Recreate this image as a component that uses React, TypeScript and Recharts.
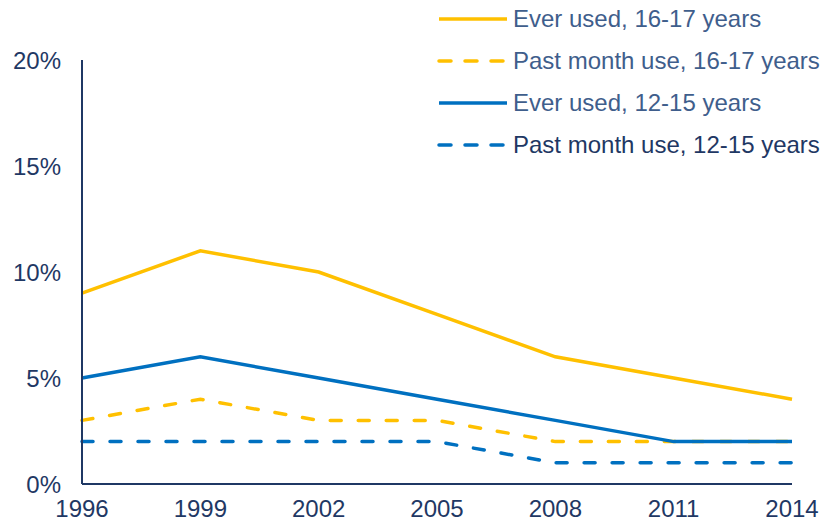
import React from "react";
import { LineChart, Line, XAxis, YAxis } from "recharts";

const years = ["1996", "1999", "2002", "2005", "2008", "2011", "2014"];
const everUsed1617 = [9, 11, 10, 8, 6, 5, 4];
const pastMonth1617 = [3, 4, 3, 3, 2, 2, 2];
const everUsed1215 = [5, 6, 5, 4, 3, 2, 2];
const pastMonth1215 = [2, 2, 2, 2, 1, 1, 1];
const yTicks = [0, 5, 10, 15, 20];

const data = years.map((y, i) => ({
  year: y,
  e1617: everUsed1617[i],
  p1617: pastMonth1617[i],
  e1215: everUsed1215[i],
  p1215: pastMonth1215[i],
}));

const ORANGE = "#FFC000";
const BLUE = "#0070C0";
const NAVY = "#1F3864";
const FONT = "'Liberation Sans', Arial, sans-serif";

const legendItems = [
  { name: "Ever used, 16-17 years", color: ORANGE, dash: false, text: "#3F5E8C" },
  { name: "Past month use, 16-17 years", color: ORANGE, dash: true, text: "#3F5E8C" },
  { name: "Ever used, 12-15 years", color: BLUE, dash: false, text: "#3F5E8C" },
  { name: "Past month use, 12-15 years", color: BLUE, dash: true, text: NAVY },
];

const LegendBox = () => (
  <div style={{ position: "absolute", left: 436, top: -2, fontFamily: FONT }}>
    {legendItems.map((it) => (
      <div key={it.name} style={{ display: "flex", alignItems: "center", height: 42 }}>
        <svg width={77} height={10} style={{ display: "block" }}>
          <line
            x1={3}
            y1={5}
            x2={71}
            y2={5}
            stroke={it.color}
            strokeWidth={3.5}
            strokeDasharray={it.dash ? "12 14" : undefined}
            strokeLinecap={it.dash ? "round" : "butt"}
          />
        </svg>
        <span style={{ fontSize: 24, color: it.text, whiteSpace: "nowrap" }}>{it.name}</span>
      </div>
    ))}
  </div>
);

export default function App() {
  return (
    <div style={{ position: "absolute", left: 0, top: 0, width: 829, height: 527, background: "#fff" }}>
      <LineChart
        width={829}
        height={527}
        data={data}
        margin={{ top: 60, right: 37, left: 0, bottom: 13 }}
        style={{ fontFamily: FONT }}
      >
        <XAxis
          dataKey="year"
          height={30}
          tickLine={false}
          tickSize={0}
          tickMargin={16}
          axisLine={{ stroke: NAVY, strokeWidth: 2 }}
          tick={{ fill: NAVY, fontSize: 24 }}
          interval={0}
        />
        <YAxis
          width={82}
          domain={[0, 20]}
          ticks={yTicks}
          tickFormatter={(v) => `${v}%`}
          tickLine={false}
          tickSize={0}
          tickMargin={21}
          axisLine={{ stroke: NAVY, strokeWidth: 2 }}
          tick={{ fill: NAVY, fontSize: 24 }}
        />
        <Line dataKey="e1617" stroke={ORANGE} strokeWidth={3.5} dot={false} isAnimationActive={false} />
        <Line dataKey="p1617" stroke={ORANGE} strokeWidth={3.5} strokeDasharray="11 17" strokeLinecap="round" dot={false} isAnimationActive={false} />
        <Line dataKey="e1215" stroke={BLUE} strokeWidth={3.5} dot={false} isAnimationActive={false} />
        <Line dataKey="p1215" stroke={BLUE} strokeWidth={3.5} strokeDasharray="11 17" strokeLinecap="round" dot={false} isAnimationActive={false} />
      </LineChart>
      <LegendBox />
    </div>
  );
}
